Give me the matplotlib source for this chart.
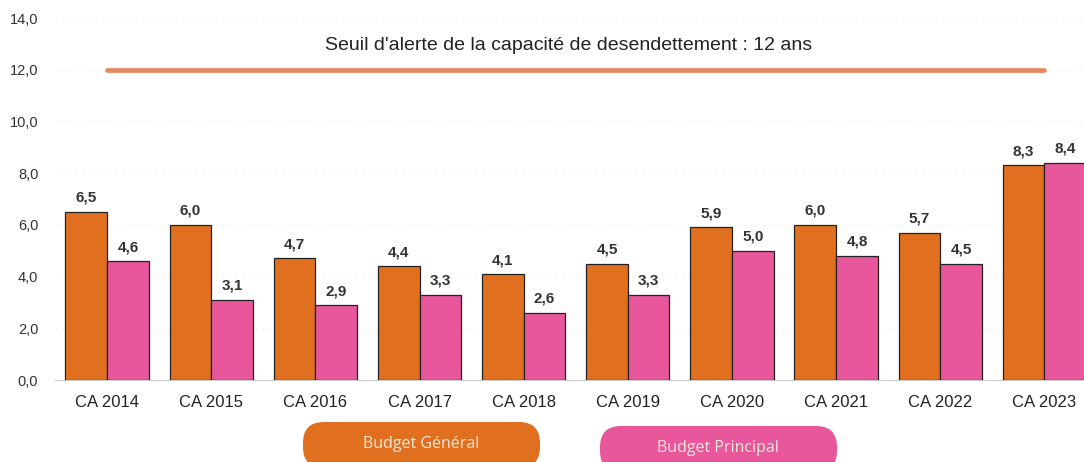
import numpy as np
import matplotlib.pyplot as plt
from matplotlib.patches import FancyBboxPatch

categories = ["CA 2014", "CA 2015", "CA 2016", "CA 2017", "CA 2018",
              "CA 2019", "CA 2020", "CA 2021", "CA 2022", "CA 2023"]
budget_general = [6.5, 6.0, 4.7, 4.4, 4.1, 4.5, 5.9, 6.0, 5.7, 8.3]
budget_principal = [4.6, 3.1, 2.9, 3.3, 2.6, 3.3, 5.0, 4.8, 4.5, 8.4]
seuil = 12.0
y_ticks = [0, 2, 4, 6, 8, 10, 12, 14]

ORANGE = "#E0701F"
PINK = "#E8569C"
SEUIL_COLOR = "#E8865E"

plt.rcParams["font.family"] = ["Liberation Sans", "DejaVu Sans"]

fig = plt.figure(figsize=(10.84, 4.62), dpi=100)
ax = fig.add_axes([55 / 1084, 1 - 380 / 462, 1 - 55 / 1084, (380 - 18) / 462])

x = np.arange(len(categories))
w = 0.4
ax.bar(x - w / 2, budget_general, w, color=ORANGE, edgecolor="#222222", linewidth=0.9, zorder=3)
ax.bar(x + w / 2, budget_principal, w, color=PINK, edgecolor="#222222", linewidth=0.9, zorder=3)

for xs, vals in [(x - w / 2, budget_general), (x + w / 2, budget_principal)]:
    for xi, v in zip(xs, vals):
        ax.annotate(f"{v:.1f}".replace(".", ","), (xi, v), xytext=(0, 5), textcoords="offset points",
                    ha="center", va="bottom", fontsize=11, fontweight="bold", color="#333333")

# alert threshold line
ax.plot([x[0], x[-1]], [seuil, seuil], color=SEUIL_COLOR, linewidth=3.4, solid_capstyle="round", zorder=2)
ax.text(4.43, 12.93, "Seuil d'alerte de la capacité de desendettement : 12 ans",
        ha="center", va="center", fontsize=14, color="#222222")

ax.set_xlim(-0.5, 9.38)
ax.set_ylim(0, 14)
ax.set_yticks(y_ticks)
ax.set_yticklabels([f"{t:.1f}".replace(".", ",") for t in y_ticks], fontsize=10.5, color="#333333")
ax.set_xticks(x)
ax.set_xticklabels(categories, fontsize=12, color="#222222")
ax.tick_params(axis="x", length=0, pad=11)
ax.tick_params(axis="y", length=0, pad=12)
for s in ["top", "right", "left"]:
    ax.spines[s].set_visible(False)
ax.spines["bottom"].set_color("#cccccc")
ax.yaxis.grid(True, color="#f2f2f2", linestyle=(0, (2, 4)), linewidth=0.8, zorder=0)
ax.set_axisbelow(True)

# pill-shaped legend at the bottom
lax = fig.add_axes([0, 0, 1, 1], zorder=-1)
lax.set_xlim(0, 1084)
lax.set_ylim(462, 0)
lax.axis("off")
for (x0, y0, text, col) in [(303, 422, "Budget Général", ORANGE), (600, 426, "Budget Principal", PINK)]:
    lax.add_patch(FancyBboxPatch((x0, y0), 237, 46,
                                 boxstyle="round,pad=0,rounding_size=21",
                                 facecolor=col, edgecolor="none"))
    lax.text(x0 + 118, y0 + 22, text, ha="center", va="center", fontsize=11.5,
             color="#FBE9D8", family=["Open Sans", "DejaVu Sans"])

fig.savefig("out.png", dpi=100, facecolor="white")
